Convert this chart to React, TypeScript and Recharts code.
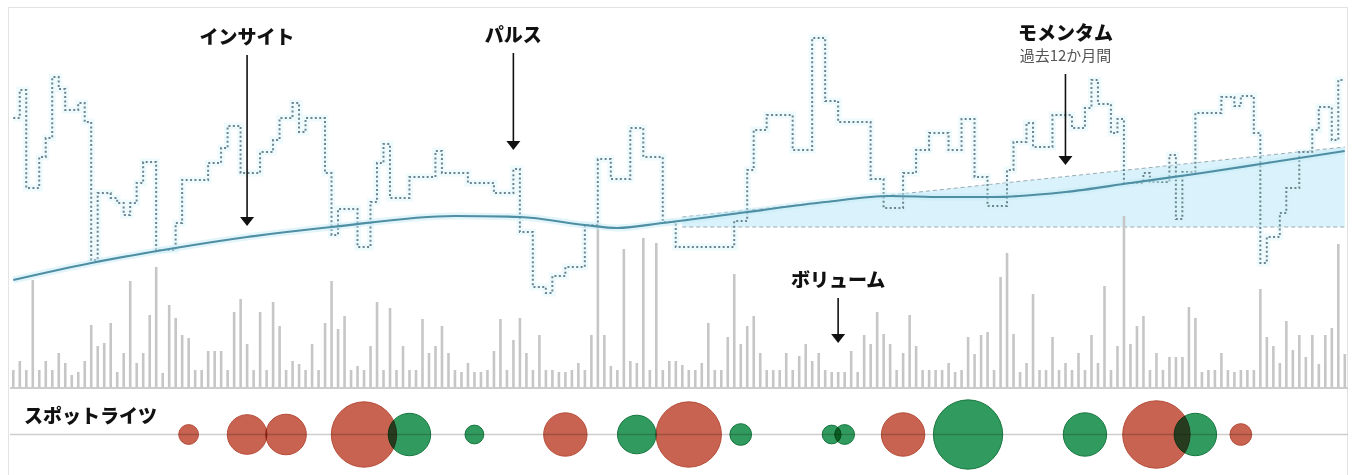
import React from "react";
import {
  Area,
  Bar,
  ComposedChart,
  Line,
  ReferenceLine,
  Scatter,
  ScatterChart,
  XAxis,
  YAxis,
  ZAxis,
} from "recharts";

// daily price (stepped) and volume, one value per trading day
const price = [
  270, 298, 200, 200, 231, 250, 311, 299, 278, 278,
  285, 266, 128, 195, 195, 190, 185, 173, 185, 205,
  226, 226, 138, 138, 138, 165, 208, 208, 208, 208,
  225, 225, 240, 262, 262, 215, 215, 215, 236, 236,
  248, 270, 270, 285, 256, 270, 270, 270, 215, 153,
  179, 179, 179, 141, 141, 186, 225, 244, 190, 190,
  190, 211, 211, 211, 211, 237, 215, 215, 215, 215,
  205, 205, 205, 205, 195, 195, 195, 219, 156, 156,
  101, 101, 95, 112, 112, 121, 121, 121, 163, 163,
  229, 229, 209, 209, 209, 260, 260, 231, 231, 231,
  166, 166, 141, 141, 141, 141, 141, 141, 141, 141,
  141, 167, 167, 218, 258, 258, 273, 273, 273, 273,
  238, 238, 238, 350, 350, 287, 287, 266, 266, 266,
  266, 266, 209, 209, 180, 180, 180, 215, 215, 238,
  238, 255, 255, 255, 238, 238, 269, 269, 211, 211,
  182, 182, 182, 218, 246, 246, 265, 241, 241, 241,
  273, 273, 273, 260, 260, 280, 308, 284, 284, 255,
  269, 205, 205, 205, 215, 206, 206, 206, 233, 169,
  216, 216, 275, 275, 275, 275, 291, 291, 282, 292,
  292, 255, 125, 151, 151, 175, 200, 200, 236, 236,
  258, 281, 281, 248, 308, 308,
];

const volume = [
  18, 27, 18, 108, 18, 27, 18, 35, 25, 13,
  16, 27, 63, 42, 45, 65, 16, 35, 107, 25,
  35, 73, 121, 15, 83, 70, 53, 50, 18, 18,
  37, 37, 37, 18, 76, 89, 44, 18, 76, 18,
  86, 62, 18, 27, 24, 18, 44, 18, 65, 107,
  59, 72, 18, 22, 18, 42, 86, 18, 80, 18,
  42, 18, 18, 69, 35, 42, 62, 35, 18, 16,
  25, 16, 16, 18, 37, 69, 18, 48, 70, 35,
  18, 53, 18, 18, 16, 16, 18, 25, 18, 53,
  165, 53, 22, 18, 139, 27, 25, 150, 18, 145,
  18, 27, 27, 23, 18, 18, 25, 65, 18, 18,
  51, 114, 44, 62, 72, 35, 18, 18, 18, 35,
  18, 32, 44, 27, 35, 18, 16, 16, 16, 37,
  16, 53, 44, 76, 54, 44, 18, 35, 73, 42,
  18, 18, 18, 18, 25, 16, 18, 51, 34, 53,
  56, 18, 111, 135, 54, 16, 25, 94, 18, 18,
  51, 18, 25, 18, 35, 18, 53, 25, 102, 18,
  42, 172, 44, 62, 72, 18, 35, 18, 31, 31,
  31, 81, 70, 16, 18, 18, 35, 18, 16, 18,
  18, 18, 99, 51, 42, 25, 67, 38, 53, 31,
  53, 24, 53, 60, 144, 34,
];

// smoothed trend ("insight") read at a few days
const trendAt = [0, 12, 24, 36, 49, 68, 78, 88, 93, 100, 113, 125, 135, 143, 151, 162, 172, 183, 193, 205];
const trendVal = [108, 125, 139, 151, 161, 172, 171, 163, 160, 165, 176, 186, 192, 191, 191, 196, 205, 215, 225, 237];

// 12-month momentum band
const momentumAt = [103, 205];
const momentumLow = [161, 161];
const momentumHigh = [171, 241];

// spotlight events: day and weight
const redAt = [27, 36, 42, 54, 85, 104, 137, 176, 189];
const redSize = [1.0, 4.0, 4.2, 10.9, 4.8, 10.9, 4.8, 11.6, 1.2];
const greenAt = [61, 71, 96, 112, 126, 128, 147, 165, 182];
const greenSize = [4.6, 0.9, 3.8, 1.2, 0.9, 1.0, 12.25, 4.8, 4.6];

const notes = [
  { at: 36, from: 333, to: 162, title: "インサイト", sub: "" },
  { at: 77, from: 335, to: 238, title: "パルス", sub: "" },
  { at: 162, from: 314, to: 223, title: "モメンタム", sub: "過去12か月間" },
  { at: 127, from: 90, to: 45, title: "ボリューム", sub: "" },
];

const rows = price.map((p, i) => {
  const t = trendAt.indexOf(i);
  const m = momentumAt.indexOf(i);
  return {
    i,
    p,
    v: volume[i],
    t: t >= 0 ? trendVal[t] : null,
    m: m >= 0 ? [momentumLow[m], momentumHigh[m]] : null,
  };
});

const redEvents = redAt.map((x, k) => ({ x, y: 0, z: redSize[k] }));
const greenEvents = greenAt.map((x, k) => ({ x, y: 0, z: greenSize[k] }));

const FONT = "'Noto Sans CJK JP', 'Noto Sans', sans-serif";

const arrowShape = (title: string, sub: string) => (props: any) => {
  const { x1, y1, y2 } = props;
  const head = 9;
  return (
    <g>
      <line x1={x1} y1={y1} x2={x1} y2={y2 - head} stroke="#111" strokeWidth={1.6} />
      <polygon points={`${x1 - 7},${y2 - head} ${x1 + 7},${y2 - head} ${x1},${y2}`} fill="#111" />
      <text
        x={x1}
        y={sub ? y1 - 43 : y1 - 20}
        textAnchor="middle"
        dominantBaseline="central"
        fontFamily={FONT}
        fontSize={19}
        fontWeight={900}
        fill="#111"
      >
        {title}
      </text>
      {sub && (
        <text
          x={x1}
          y={y1 - 20}
          textAnchor="middle"
          dominantBaseline="central"
          fontFamily={FONT}
          fontSize={15}
          fill="#555"
        >
          {sub}
        </text>
      )}
    </g>
  );
};

const bubble = (color: string, edge: string) => (props: any) => {
  const r = props.width ? props.width / 2 : Math.sqrt((props.size || 0) / Math.PI);
  return (
    <circle
      cx={props.cx}
      cy={props.cy}
      r={r}
      fill={color}
      fillOpacity={0.92}
      stroke={edge}
      strokeWidth={1}
      style={{ mixBlendMode: "multiply" }}
    />
  );
};

export default function App() {
  return (
    <div
      style={{
        position: "relative",
        width: 1352,
        height: 475,
        overflow: "hidden",
        background: "#fff",
        fontFamily: FONT,
      }}
    >
      <style>{"body{margin:0}"}</style>
      <div
        style={{
          position: "absolute",
          left: 8,
          top: 7,
          width: 1338,
          height: 480,
          border: "1px solid #e3e3e3",
        }}
      />

      <div style={{ position: "absolute", left: 0, top: 0 }}>
        <ComposedChart
          width={1352}
          height={400}
          data={rows}
          margin={{ top: 20, right: 4, bottom: 12, left: 10 }}
        >
          <XAxis dataKey="i" hide />
          <YAxis yAxisId="p" domain={[0, 368]} hide allowDataOverflow />
          <Area
            yAxisId="p"
            type="linear"
            dataKey="m"
            connectNulls
            fill="#d2f0fa"
            fillOpacity={0.85}
            stroke="#9aabb3"
            strokeWidth={1}
            strokeDasharray="4 3"
            isAnimationActive={false}
          />
          <Bar yAxisId="p" dataKey="v" fill="#c6c6c6" barSize={2.6} isAnimationActive={false} />
          <Line
            yAxisId="p"
            type="stepAfter"
            dataKey="p"
            stroke="#d6f2fb"
            strokeWidth={7}
            strokeOpacity={0.4}
            dot={false}
            activeDot={false}
            isAnimationActive={false}
          />
          <Line
            yAxisId="p"
            type="stepAfter"
            dataKey="p"
            stroke="#6a8591"
            strokeWidth={2}
            strokeDasharray="2 2.4"
            dot={false}
            activeDot={false}
            isAnimationActive={false}
          />
          <Line
            yAxisId="p"
            type="monotone"
            dataKey="t"
            connectNulls
            stroke="#c6ecf8"
            strokeWidth={7}
            strokeOpacity={0.5}
            dot={false}
            activeDot={false}
            isAnimationActive={false}
          />
          <Line
            yAxisId="p"
            type="monotone"
            dataKey="t"
            connectNulls
            stroke="#4f8ea3"
            strokeWidth={2.2}
            dot={false}
            activeDot={false}
            isAnimationActive={false}
          />
          <ReferenceLine yAxisId="p" y={0} stroke="#cccccc" strokeWidth={2} />
          {notes.map((n) => (
            <ReferenceLine
              key={n.title}
              yAxisId="p"
              segment={[
                { x: n.at, y: n.from },
                { x: n.at, y: n.to },
              ]}
              shape={arrowShape(n.title, n.sub)}
            />
          ))}
        </ComposedChart>
      </div>

      <div style={{ position: "absolute", left: 0, top: 390 }}>
        <ScatterChart width={1352} height={85} margin={{ top: 4, right: 4, bottom: 0, left: 10 }}>
          <XAxis type="number" dataKey="x" domain={[-0.5, 205.5]} hide />
          <YAxis type="number" dataKey="y" domain={[-1, 1]} hide />
          <ZAxis type="number" dataKey="z" domain={[0, 12]} range={[0, 3770]} />
          <ReferenceLine y={0} stroke="#cdcdcd" strokeWidth={1.5} />
          <Scatter data={redEvents} shape={bubble("#c25641", "#b54c39")} isAnimationActive={false} />
          <Scatter data={greenEvents} shape={bubble("#1f9150", "#16763e")} isAnimationActive={false} />
        </ScatterChart>
      </div>

      <div
        style={{
          position: "absolute",
          left: 24,
          top: 403,
          fontSize: 19,
          lineHeight: "24px",
          fontWeight: 900,
          color: "#111",
        }}
      >
        スポットライツ
      </div>
    </div>
  );
}
